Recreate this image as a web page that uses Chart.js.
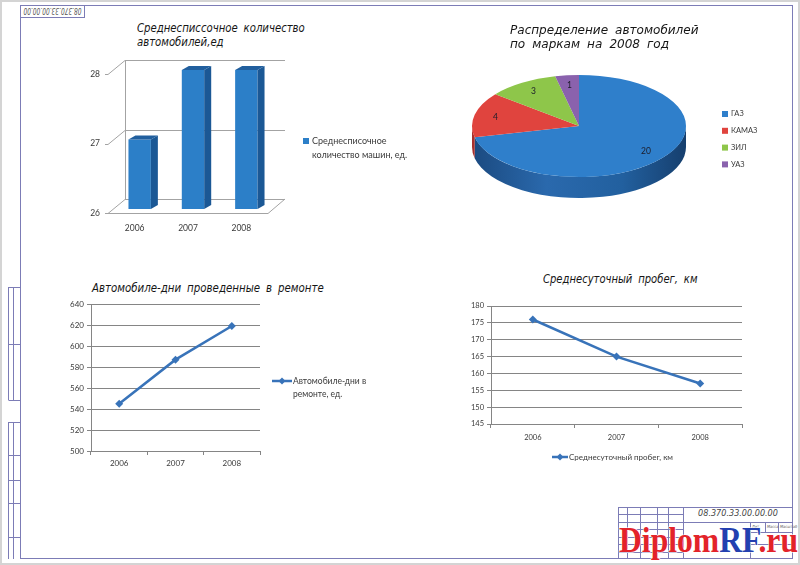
<!DOCTYPE html>
<html>
<head>
<meta charset="utf-8">
<script src="https://cdn.jsdelivr.net/npm/chart.js@4.4.1/dist/chart.umd.min.js"></script>
<style>
  html, body { margin: 0; padding: 0; background: #fff; }
  #sheet { position: relative; width: 800px; height: 565px; overflow: hidden; }
  #sheet svg { position: absolute; left: 0; top: 0; }
  canvas { position: absolute; }
  .ttl { position: absolute; white-space: nowrap; color: #161616; transform-origin: left top;
         font: italic 12.5px 'DejaVu Sans Condensed', 'DejaVu Sans', sans-serif; word-spacing: 3px; }
</style>
</head>
<body>
<div id="sheet">
  <svg width="800" height="565" viewBox="0 0 800 565">
    <rect x="1" y="1" width="798" height="563" fill="none" stroke="#d4d4d4" stroke-width="2"/>
    <g stroke="#7c7cb6" stroke-width="1" fill="none">
      <rect x="20.5" y="5.5" width="772" height="553"/>
      <rect x="20.5" y="5.5" width="64" height="12"/>
      <path d="M8.5 287V400M13.5 287V400M8.5 287.5H20M8.5 344.5H20M8.5 400.5H20
               M8.5 422V559M13.5 422V559M8.5 422.5H20M8.5 455.5H20M8.5 480.5H20M8.5 503.5H20M8.5 537.5H20"/>
      <path d="M618.5 507V559M618 507.5H793M618 522.5H793
               M627.5 507V559M640.5 507V559M657.5 507V559M668.5 507V559M683.5 507V559
               M618 514.5H683M618 529.5H683M618 537.5H683M618 544.5H683M618 552.5H683
               M750.5 522V559M765.5 522V532M778.5 522V532M750 532.5H793M750 544.5H793"/>
    </g>
    <text transform="rotate(180 52.5 11.5)" x="52.5" y="15" text-anchor="middle" textLength="58" lengthAdjust="spacingAndGlyphs"
          font-family="DejaVu Sans Condensed, DejaVu Sans" font-style="italic" font-size="8" fill="#555">08.370.33.00.00.00</text>
    <text x="738" y="516" text-anchor="middle" font-family="DejaVu Sans Condensed, DejaVu Sans"
          font-style="italic" font-size="9" fill="#444">08.370.33.00.00.00</text>
    <g font-family="DejaVu Sans Condensed, DejaVu Sans" font-style="italic" font-size="4" fill="#666">
      <text x="752" y="528">Лит.</text><text x="767" y="528">Масса</text><text x="780" y="528">Масштаб</text>
    </g>
    <text x="619" y="552" font-family="Liberation Serif, serif" font-weight="bold" font-size="35"
          textLength="179" lengthAdjust="spacingAndGlyphs" stroke="#fff" stroke-width="1.2" paint-order="stroke"><tspan fill="#e3232a">Diplom</tspan><tspan fill="#2340b0">RF</tspan><tspan fill="#e3232a">.ru</tspan></text>
  </svg>

  <canvas id="cars" width="340" height="190" style="left:80px;top:50px"></canvas>
  <canvas id="brands" width="360" height="230" style="left:440px;top:15px"></canvas>
  <canvas id="repair" width="360" height="181" style="left:40px;top:295px"></canvas>
  <canvas id="run" width="320" height="174" style="left:440px;top:296px"></canvas>

  <div class="ttl" style="left:137px;top:21px;line-height:13.5px;transform:scaleX(0.9)">Среднесписсочное количество<br>автомобилей,ед</div>
  <div class="ttl" style="left:510px;top:23px;line-height:14px;transform:scaleX(1.07)">Распределение автомобилей<br>по маркам на 2008 год</div>
  <div class="ttl" style="left:92px;top:281px;line-height:14px;transform:scaleX(0.91)">Автомобиле-дни проведенные в ремонте</div>
  <div class="ttl" style="left:543px;top:272px;line-height:14px;transform:scaleX(0.89)">Среднесуточный пробег, км</div>
</div>

<script>
// values
const years = ['2006', '2007', '2008'];
const carsCount = [27, 28, 28];
const carsLabel = 'Среднесписочное\nколичество машин, ед.';
const brandLabels = ['ГАЗ', 'КАМАЗ', 'ЗИЛ', 'УАЗ'];
const brandCounts = [20, 4, 3, 1];
const repairDays = [545, 587, 619];
const repairLabel = 'Автомобиле-дни в\nремонте, ед.';
const dailyRun = [176, 165, 157];
const runLabel = 'Среднесуточный пробег, км';

const brandColors = ['#2f7fcb', '#e0443e', '#8ec64a', '#8a62ad'];
const brandSides = ['#235f9f', '#a8302c', '#67953a', '#634684'];
const lineBlue = '#3873b9';
const axisGrey = '#858585';
const textCol = '#3a3a3a';

// legend drawn at a fixed place, so two-line labels work like in the original
const sideLegend = {
  id: 'sideLegend',
  afterDraw(chart, args, o) {
    const ctx = chart.ctx;
    const ds = chart.data.datasets[0];
    ctx.save();
    ctx.font = o.font;
    ctx.textBaseline = 'middle';
    if (o.kind === 'labels') {
      chart.data.labels.forEach((lab, i) => {
        const y = o.y + i * o.step;
        ctx.fillStyle = ds.backgroundColor[i];
        ctx.fillRect(o.x, y - 3, 6, 6);
        ctx.fillStyle = textCol;
        ctx.fillText(lab, o.x + 9, y);
      });
    } else {
      let tx = o.x + 9;
      if (o.marker === 'line') {
        ctx.strokeStyle = ds.borderColor;
        ctx.lineWidth = 2.5;
        ctx.beginPath();
        ctx.moveTo(o.x, o.y);
        ctx.lineTo(o.x + o.len, o.y);
        ctx.stroke();
        const m = o.x + o.len / 2;
        ctx.fillStyle = ds.borderColor;
        ctx.beginPath();
        ctx.moveTo(m, o.y - 3.5); ctx.lineTo(m + 3.5, o.y); ctx.lineTo(m, o.y + 3.5); ctx.lineTo(m - 3.5, o.y);
        ctx.closePath();
        ctx.fill();
        tx = o.x + o.len + 1;
      } else {
        ctx.fillStyle = ds.backgroundColor;
        ctx.fillRect(o.x, o.y - 3, 6, 6);
      }
      ctx.fillStyle = textCol;
      ds.label.split('\n').forEach((t, i) => ctx.fillText(t, tx, o.y + i * o.step));
    }
    ctx.restore();
  }
};

// walls, floor and bar depth for the 3d column look
const bar3d = {
  id: 'bar3d',
  beforeDatasetsDraw(chart, args, o) {
    const { ctx, chartArea: a } = chart;
    const y = chart.scales.y;
    ctx.save();
    ctx.strokeStyle = '#a3a3a3';
    ctx.lineWidth = 1;
    ctx.beginPath();
    y.ticks.forEach(t => {
      const py = Math.round(y.getPixelForValue(t.value)) + 0.5;
      ctx.moveTo(a.left - 3, py);
      ctx.lineTo(a.left, py);
      ctx.lineTo(a.left + o.dx, py + o.dy);
      ctx.lineTo(a.right + o.dx, py + o.dy);
    });
    ctx.moveTo(a.left + o.dx + 0.5, a.top + o.dy);
    ctx.lineTo(a.left + o.dx + 0.5, a.bottom + o.dy);
    ctx.moveTo(a.left, a.bottom + 0.5);
    ctx.lineTo(a.right, a.bottom + 0.5);
    ctx.lineTo(a.right + o.dx, a.bottom + o.dy);
    ctx.stroke();
    ctx.restore();
    ctx.save();
    ctx.translate(o.sx, o.sy);
  },
  afterDatasetsDraw(chart, args, o) {
    const ctx = chart.ctx;
    chart.getDatasetMeta(0).data.forEach(bar => {
      const l = bar.x - bar.width / 2, r = bar.x + bar.width / 2, t = bar.y, b = bar.base;
      ctx.fillStyle = o.side;
      ctx.beginPath();
      ctx.moveTo(r, t); ctx.lineTo(r + o.bx, t + o.by); ctx.lineTo(r + o.bx, b + o.by); ctx.lineTo(r, b);
      ctx.closePath();
      ctx.fill();
      ctx.fillStyle = o.top;
      ctx.beginPath();
      ctx.moveTo(l, t); ctx.lineTo(l + o.bx, t + o.by); ctx.lineTo(r + o.bx, t + o.by); ctx.lineTo(r, t);
      ctx.closePath();
      ctx.fill();
    });
    ctx.restore();
  }
};

// tilted pie: squash the arcs and add a rim below the front half
const pie3d = {
  id: 'pie3d',
  beforeDatasetsDraw(chart, args, o) {
    const ctx = chart.ctx;
    const arcs = chart.getDatasetMeta(0).data;
    const cx = arcs[0].x, cy = arcs[0].y, r = arcs[0].outerRadius, ry = r * o.tilt;
    const grad = ctx.createLinearGradient(cx - r, 0, cx + r, 0);
    grad.addColorStop(0, '#1b4a80');
    grad.addColorStop(0.35, '#2a69ad');
    grad.addColorStop(0.7, '#22609f');
    grad.addColorStop(1, '#163f6e');
    arcs.forEach((arc, i) => {
      [0, Math.PI * 2].forEach(off => {
        const s = Math.max(arc.startAngle, off), e = Math.min(arc.endAngle, off + Math.PI);
        if (e <= s) return;
        ctx.beginPath();
        ctx.ellipse(cx, cy, r, ry, 0, s, e);
        ctx.ellipse(cx, cy + o.depth, r, ry, 0, e, s, true);
        ctx.closePath();
        ctx.fillStyle = i === 0 ? grad : brandSides[i];
        ctx.fill();
      });
    });
    ctx.save();
    ctx.translate(cx, cy);
    ctx.scale(1, o.tilt);
    ctx.translate(-cx, -cy);
  },
  afterDatasetsDraw(chart, args, o) {
    const ctx = chart.ctx;
    ctx.restore();
    const arcs = chart.getDatasetMeta(0).data;
    ctx.save();
    ctx.font = o.font;
    ctx.fillStyle = '#1c1c2a';
    ctx.textAlign = 'center';
    ctx.textBaseline = 'middle';
    arcs.forEach((arc, i) => {
      const mid = (arc.startAngle + arc.endAngle) / 2;
      const x = arc.x + Math.cos(mid) * arc.outerRadius * 0.8;
      const y = arc.y + Math.sin(mid) * arc.outerRadius * 0.8 * o.tilt;
      ctx.fillText(String(chart.data.datasets[0].data[i]), x, y);
    });
    ctx.restore();
  }
};

function lineScales(min, max, step, yWidth, xHeight, size, xPad) {
  const f = { family: 'Lato', size: size };
  return {
    x: {
      offset: true,
      grid: { offset: true, drawOnChartArea: false, tickLength: 4, color: axisGrey },
      border: { color: axisGrey },
      ticks: { padding: xPad, color: textCol, font: f, maxRotation: 0 },
      afterFit: s => { s.height = xHeight; }
    },
    y: {
      min: min, max: max,
      grid: { color: axisGrey, tickLength: 4 },
      border: { color: axisGrey },
      ticks: { stepSize: step, padding: 3, color: textCol, font: f },
      afterFit: s => { s.width = yWidth; }
    }
  };
}

new Chart(document.getElementById('cars'), {
  type: 'bar',
  data: {
    labels: years,
    datasets: [{ label: carsLabel, data: carsCount, backgroundColor: '#2c7fc8', base: 26,
                 barPercentage: 0.42, categoryPercentage: 1, clip: false }]
  },
  options: {
    responsive: false, animation: false,
    layout: { padding: { left: 0, top: 24, right: 152, bottom: 0 } },
    plugins: {
      legend: { display: false }, tooltip: { enabled: false },
      bar3d: { dx: 17, dy: -14, sx: 5, sy: -4, bx: 7, by: -4, side: '#1b5895', top: '#215f9e' },
      sideLegend: { kind: 'dataset', x: 223, y: 91, step: 14, font: '9px Lato' }
    },
    scales: {
      x: {
        grid: { display: false, drawTicks: false }, border: { display: false },
        ticks: { padding: 10, color: textCol, font: { family: 'Lato', size: 8.5 } },
        afterFit: s => { s.height = 27; }
      },
      y: {
        min: 26, max: 28,
        grid: { display: false, drawTicks: false }, border: { display: false },
        ticks: { stepSize: 1, padding: 8, color: textCol, font: { family: 'Lato', size: 8.5 } },
        afterFit: s => { s.width = 28; }
      }
    }
  },
  plugins: [bar3d, sideLegend]
});

new Chart(document.getElementById('brands'), {
  type: 'pie',
  data: {
    labels: brandLabels,
    datasets: [{ data: brandCounts, backgroundColor: brandColors, borderWidth: 0, hoverOffset: 0, clip: false }]
  },
  options: {
    responsive: false, animation: false,
    layout: { padding: { left: 32, top: 4, right: 114, bottom: 12 } },
    plugins: {
      legend: { display: false }, tooltip: { enabled: false },
      pie3d: { tilt: 0.477, depth: 21, font: '8.5px Lato' },
      sideLegend: { kind: 'labels', x: 282, y: 99, step: 16.8, font: '7.5px Lato' }
    }
  },
  plugins: [pie3d, sideLegend]
});

new Chart(document.getElementById('repair'), {
  type: 'line',
  data: {
    labels: years,
    datasets: [{ label: repairLabel, data: repairDays, borderColor: lineBlue, backgroundColor: lineBlue,
                 borderWidth: 2.5, pointStyle: 'rectRot', pointRadius: 4, pointBorderWidth: 0, tension: 0 }]
  },
  options: {
    responsive: false, animation: false,
    layout: { padding: { left: 0, top: 9, right: 140, bottom: 0 } },
    plugins: {
      legend: { display: false }, tooltip: { enabled: false },
      sideLegend: { kind: 'dataset', marker: 'line', x: 232, y: 86, len: 20, step: 13, font: '8.5px Lato' }
    },
    scales: lineScales(500, 640, 20, 51, 25, 8, 4)
  },
  plugins: [sideLegend]
});

new Chart(document.getElementById('run'), {
  type: 'line',
  data: {
    labels: years,
    datasets: [{ label: runLabel, data: dailyRun, borderColor: lineBlue, backgroundColor: lineBlue,
                 borderWidth: 2.5, pointStyle: 'rectRot', pointRadius: 4, pointBorderWidth: 0, tension: 0 }]
  },
  options: {
    responsive: false, animation: false,
    layout: { padding: { left: 0, top: 10, right: 18, bottom: 26 } },
    plugins: {
      legend: { display: false }, tooltip: { enabled: false },
      sideLegend: { kind: 'dataset', marker: 'line', x: 112, y: 161, len: 16, step: 12, font: '8px Lato' }
    },
    scales: lineScales(145, 180, 5, 51, 20, 7.5, 5)
  },
  plugins: [sideLegend]
});
</script>
</body>
</html>
